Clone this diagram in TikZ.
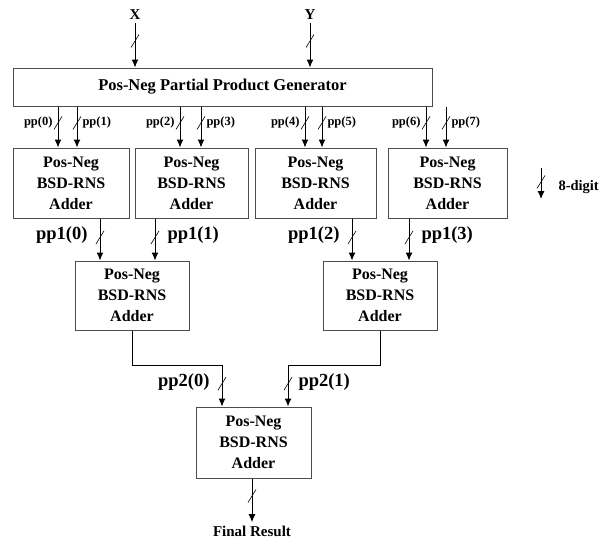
\documentclass[tikz,border=0pt]{standalone}
\usepackage{fontspec}
\setmainfont{Liberation Serif}
\usetikzlibrary{calc,positioning,arrows.meta}

\begin{document}
\begin{tikzpicture}[x=1pt,y=-1pt,font=\bfseries]

\tikzset{adder/.style={draw=black!70,line width=1pt,minimum width=116,minimum height=70,inner sep=0,
    align=center,font=\bfseries\fontsize{16}{21}\selectfont},
bus/.style={-{Latex[length=8pt,width=7pt]},line width=1pt},
digit/.pic={\draw[-,line width=0.6pt] (-4,6.5) -- (4,-6.5);},
pplabel/.style={font=\bfseries\fontsize{12.5}{13}\selectfont,inner sep=0},
biglabel/.style={font=\bfseries\fontsize{18.5}{19}\selectfont,inner sep=0}}

\useasboundingbox (0,0) rectangle (609,542);

% Generator and inputs
\node (gen) [draw=black!70,line width=1pt,minimum width=419,minimum height=38,
    font=\bfseries\fontsize{16.5}{18}\selectfont] at (222.5,87) {Pos-Neg Partial Product Generator};
\node (x) [font=\bfseries\fontsize{15}{16}\selectfont] at (135,15) {X};
\node (y) [font=\bfseries\fontsize{15}{16}\selectfont] at (310,15) {Y};
\foreach \u in {x, y} \draw[bus] (\u) -- (\u |- gen.north) pic[pos=0.4]{digit};

% First row of adders
\node (add1) [adder] at (71,183) {Pos-Neg\\BSD-RNS\\Adder};
\node (add2) [adder,minimum width=113] at (191.5,183) {Pos-Neg\\BSD-RNS\\Adder};
\node (add3) [adder,minimum width=121] at (315.5,183) {Pos-Neg\\BSD-RNS\\Adder};
\node (add4) [adder,minimum width=119] at (447.5,183) {Pos-Neg\\BSD-RNS\\Adder};

% Partial products
\foreach \i/\xa/\xb/\la/\lb in {1/58/77/0/1, 2/180/201/2/3, 3/305/322/4/5, 4/426/446/6/7} {
  \coordinate (pa\i) at (\xa,0);
  \coordinate (pb\i) at (\xb,0);
  \draw[bus] (gen.south -| pa\i) -- (add\i.north -| pa\i) pic[pos=0.4]{digit}
    node[pplabel,pos=0.38,left=5pt] {pp(\la)};
  \draw[bus] (gen.south -| pb\i) -- (add\i.north -| pb\i) pic[pos=0.4]{digit}
    node[pplabel,pos=0.38,right=5pt] {pp(\lb)};
}

% Second row of adders
\node (sum1) [adder,minimum width=114,minimum height=69] at (132,295.5) {Pos-Neg\\BSD-RNS\\Adder};
\node (sum2) [adder,minimum width=114,minimum height=69] at (380,295.5) {Pos-Neg\\BSD-RNS\\Adder};

\foreach \u/\s/\xo/\lab/\side in {add1/sum1/100/0/left, add2/sum1/155/1/right,
    add3/sum2/352/2/left, add4/sum2/409/3/right} {
  \coordinate (o\lab) at (\xo,0);
  \draw[bus] (\u.south -| o\lab) -- (\s.north -| o\lab) pic[pos=0.45]{digit}
    node[biglabel,pos=0.4,\side=12pt] {pp1(\lab)};
}

% Final adder
\node (fin) [adder,minimum width=115,minimum height=71] at (253.5,442.5) {Pos-Neg\\BSD-RNS\\Adder};
\coordinate (j0) at (222,365);
\coordinate (j1) at (288,365);
\draw[bus] (sum1.south) |- (j0) -- (fin.north -| j0) pic[pos=0.45]{digit}
  node[biglabel,pos=0.4,left=12pt] {pp2(0)};
\draw[bus] (sum2.south) |- (j1) -- (fin.north -| j1) pic[pos=0.45]{digit}
  node[biglabel,pos=0.4,right=10pt] {pp2(1)};

% Result
\node (res) [font=\bfseries\fontsize{15}{16}\selectfont] at (252,531) {Final Result};
\draw[bus] (fin.south -| res) -- (res) pic[pos=0.4]{digit};

% Legend
\coordinate (lg0) at (541,168);
\coordinate (lg1) at (541,199);
\draw[bus] (lg0) -- (lg1) pic[pos=0.45]{digit};
\node (lgtext) [font=\bfseries\fontsize{14.5}{15}\selectfont,anchor=west] at (555,187) {8-digit};
\end{tikzpicture}
\end{document}
